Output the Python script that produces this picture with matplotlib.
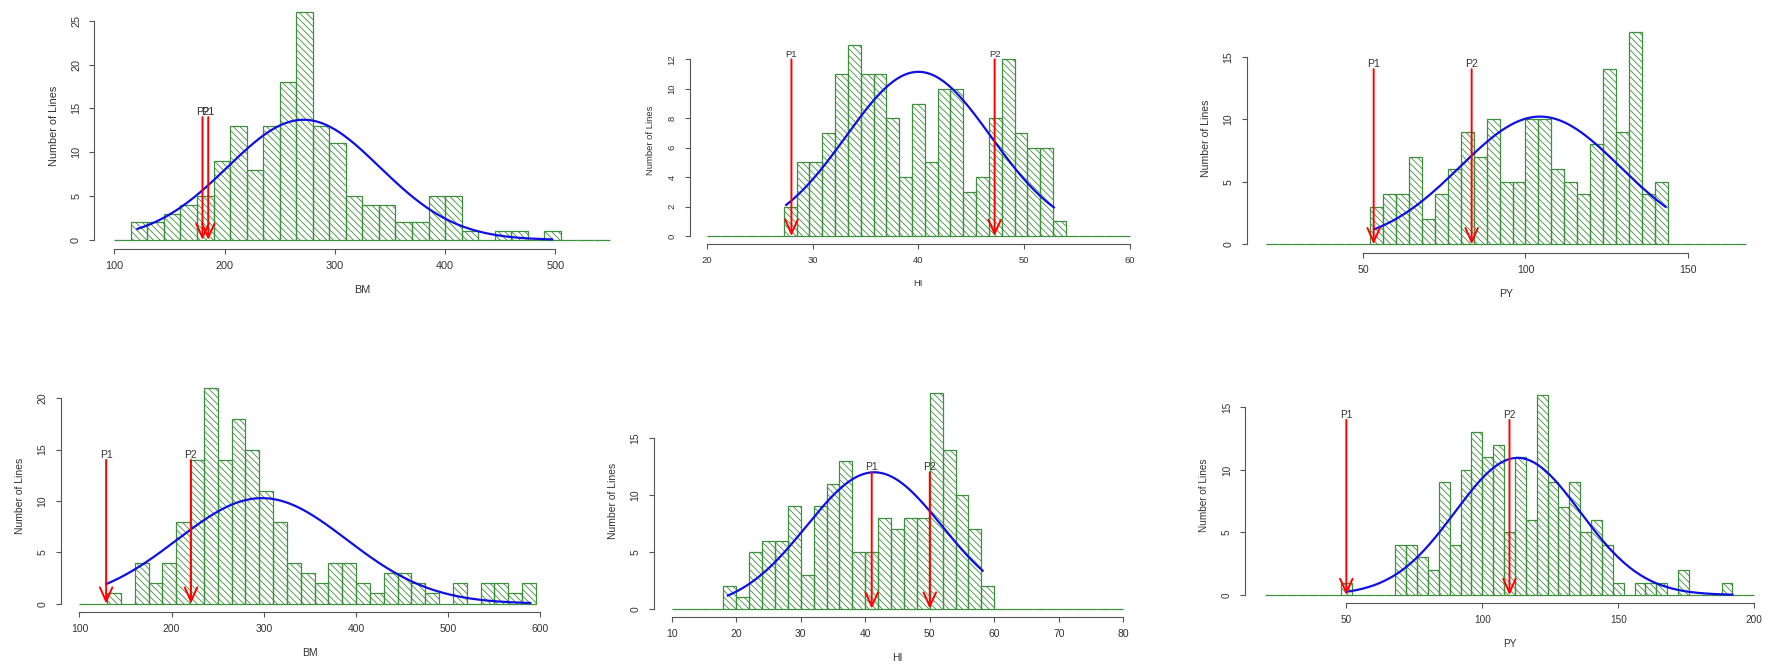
import numpy as np
import matplotlib
matplotlib.use('Agg')
import matplotlib.pyplot as plt

plt.rcParams.update({
    'font.family': ['Liberation Sans', 'DejaVu Sans'],
    'hatch.linewidth': 0.6,
    'hatch.color': '#5aa35a',
})

# ========== data ==========
N_LINES = 158

# --- top row ---
# BM (top): breaks 100..550 step 15
bm1_start, bm1_width = 100, 15
bm1_counts = [0, 2, 2, 3, 4, 5, 9, 13, 8, 13, 18, 26, 13, 11, 5, 4, 4, 2, 2, 5,
              5, 1, 0, 1, 1, 0, 1, 0, 0, 0]
bm1_curve = dict(mean=271.7, sd=69.0, lo=121, hi=497)
bm1_marks = {'P2': 180.0, 'P1': 185.2}

# HI (top): breaks seq(20, 60, length=34)
hi1_start, hi1_width = 20, 40 / 33
hi1_counts = [0, 0, 0, 0, 0, 0, 2, 5, 5, 7, 11, 13, 11, 11, 8, 4, 9, 5, 10, 10,
              3, 4, 8, 12, 7, 6, 6, 1, 0, 0, 0, 0, 0]
hi1_curve = dict(mean=40.0, sd=6.85, lo=27.5, hi=52.8)
hi1_marks = {'P1': 28.0, 'P2': 47.2}

# PY (top): breaks 20..168 step 4
py1_start, py1_width = 20, 4
py1_counts = [0, 0, 0, 0, 0, 0, 0, 0, 3, 4, 4, 7, 2, 4, 6, 9, 7, 10, 5, 5, 10,
              10, 6, 5, 4, 8, 14, 9, 17, 4, 5, 0, 0, 0, 0, 0, 0]
py1_curve = dict(mean=104.5, sd=24.7, lo=53.3, hi=143.2)
py1_marks = {'P1': 53.2, 'P2': 83.4}

# --- bottom row ---
# BM (bottom): breaks 100..595 step 15
bm2_start, bm2_width = 100, 15
bm2_counts = [0, 0, 1, 0, 4, 2, 4, 8, 14, 21, 14, 18, 15, 11, 8, 4, 3, 2, 4, 4,
              2, 1, 3, 3, 2, 1, 0, 2, 0, 2, 2, 1, 2]
bm2_curve = dict(mean=298.0, sd=92.0, lo=129, hi=589)
bm2_marks = {'P1': 129.0, 'P2': 221.0}

# HI (bottom): breaks 10..80 step 2
hi2_start, hi2_width = 10, 2
hi2_counts = [0, 0, 0, 0, 2, 1, 5, 6, 6, 9, 3, 9, 11, 13, 5, 5, 8, 7, 8, 8, 19,
              14, 10, 7, 2, 0, 0, 0, 0, 0, 0, 0, 0, 0, 0]
hi2_curve = dict(mean=41.4, sd=10.5, lo=18.7, hi=58.2)
hi2_marks = {'P1': 41.0, 'P2': 50.0}

# PY (bottom): breaks 20..200 step 4
py2_start, py2_width = 20, 4
py2_counts = [0, 0, 0, 0, 0, 0, 0, 1, 0, 0, 0, 0, 4, 4, 3, 2, 9, 4, 10, 13, 11,
              12, 5, 11, 6, 16, 9, 7, 9, 5, 6, 4, 1, 0, 1, 1, 1, 0, 2, 0, 0, 0,
              1, 0, 0]
py2_curve = dict(mean=113.0, sd=23.0, lo=50, hi=192)
py2_marks = {'P1': 50.0, 'P2': 110.0}

GREEN = '#3f8f3f'
AXIS_COL = '#555555'
TEXT_COL = '#333333'


def draw_panel(ax, start, width, counts, curve, marks, mark_top,
               xticks, yticks, xlabel, fs):
    """R-style hist(density=..) with a normal curve and P1/P2 arrows"""
    counts = np.asarray(counts, dtype=float)
    lefts = start + width * np.arange(len(counts))
    ax.bar(lefts, counts, width=width, align='edge', facecolor='none',
           edgecolor=GREEN, linewidth=0.9, hatch='\\\\\\\\\\', zorder=2)

    # fitted normal curve, scaled to counts
    xs = np.linspace(curve['lo'], curve['hi'], 200)
    ys = (N_LINES * width / (curve['sd'] * np.sqrt(2 * np.pi))
          * np.exp(-0.5 * ((xs - curve['mean']) / curve['sd']) ** 2))
    ax.plot(xs, ys, color='#1010e0', lw=1.6, zorder=3)

    # parent arrows
    for name, xv in marks.items():
        ax.annotate('', xy=(xv, 0), xytext=(xv, mark_top),
                    arrowprops=dict(arrowstyle='->,head_length=1.0,head_width=0.45',
                                    color='red', lw=1.4, mutation_scale=10,
                                    shrinkA=0, shrinkB=0), zorder=4)
        ax.text(xv, mark_top, name, ha='center', va='bottom', fontsize=fs,
                color=TEXT_COL, zorder=5)

    # R style limits (4% extension) and detached axes
    x0, x1 = start, start + width * len(counts)
    x0 = min(x0, xticks[0])
    x1 = max(x1, xticks[-1])
    ymax = counts.max()
    ax.set_xlim(x0 - 0.04 * (x1 - x0), x1 + 0.04 * (x1 - x0))
    ax.set_ylim(-0.04 * ymax, 1.04 * ymax)
    for s in ('top', 'right'):
        ax.spines[s].set_visible(False)
    ax.spines['bottom'].set_bounds(xticks[0], xticks[-1])
    ax.spines['left'].set_bounds(yticks[0], yticks[-1])
    for s in ('bottom', 'left'):
        ax.spines[s].set_color(AXIS_COL)
        ax.spines[s].set_linewidth(0.8)
    ax.set_xticks(xticks)
    ax.set_yticks(yticks)
    ax.tick_params(length=3.6, width=0.8, color=AXIS_COL, labelcolor=TEXT_COL,
                   labelsize=fs, pad=5)
    ax.tick_params(axis='y', labelrotation=90, pad=6)
    for lab in ax.get_yticklabels():
        lab.set_va('center')
    ax.set_xlabel(xlabel, fontsize=fs, color=TEXT_COL, labelpad=10)
    ax.set_ylabel('Number of Lines', fontsize=fs, color=TEXT_COL, labelpad=9)
    ax.patch.set_visible(False)


fig = plt.figure(figsize=(17.72, 6.71), dpi=100)

# axes boxes (figure fractions)
ax_bm1 = fig.add_axes([0.0533, 0.6288, 0.3024, 0.3671])
ax_hi1 = fig.add_axes([0.3893, 0.6368, 0.2580, 0.3081])
ax_py1 = fig.add_axes([0.7036, 0.6233, 0.2926, 0.3422])
ax_bm2 = fig.add_axes([0.0344, 0.0875, 0.2810, 0.3471])
ax_hi2 = fig.add_axes([0.3689, 0.0800, 0.2752, 0.3474])
ax_py2 = fig.add_axes([0.7027, 0.1013, 0.2983, 0.3222])

draw_panel(ax_bm1, bm1_start, bm1_width, bm1_counts, bm1_curve, bm1_marks, 14,
           [100, 200, 300, 400, 500], [0, 5, 10, 15, 20, 25], 'BM', 7.8)
draw_panel(ax_hi1, hi1_start, hi1_width, hi1_counts, hi1_curve, hi1_marks, 12,
           [20, 30, 40, 50, 60], [0, 2, 4, 6, 8, 10, 12], 'HI', 6.8)
draw_panel(ax_py1, py1_start, py1_width, py1_counts, py1_curve, py1_marks, 14,
           [50, 100, 150], [0, 5, 10, 15], 'PY', 7.6)
draw_panel(ax_bm2, bm2_start, bm2_width, bm2_counts, bm2_curve, bm2_marks, 14,
           [100, 200, 300, 400, 500, 600], [0, 5, 10, 15, 20], 'BM', 7.5)
draw_panel(ax_hi2, hi2_start, hi2_width, hi2_counts, hi2_curve, hi2_marks, 12,
           [10, 20, 30, 40, 50, 60, 70, 80], [0, 5, 10, 15], 'HI', 7.5)
draw_panel(ax_py2, py2_start, py2_width, py2_counts, py2_curve, py2_marks, 14,
           [50, 100, 150, 200], [0, 5, 10, 15], 'PY', 7.2)

fig.savefig('out.png', dpi=100)
